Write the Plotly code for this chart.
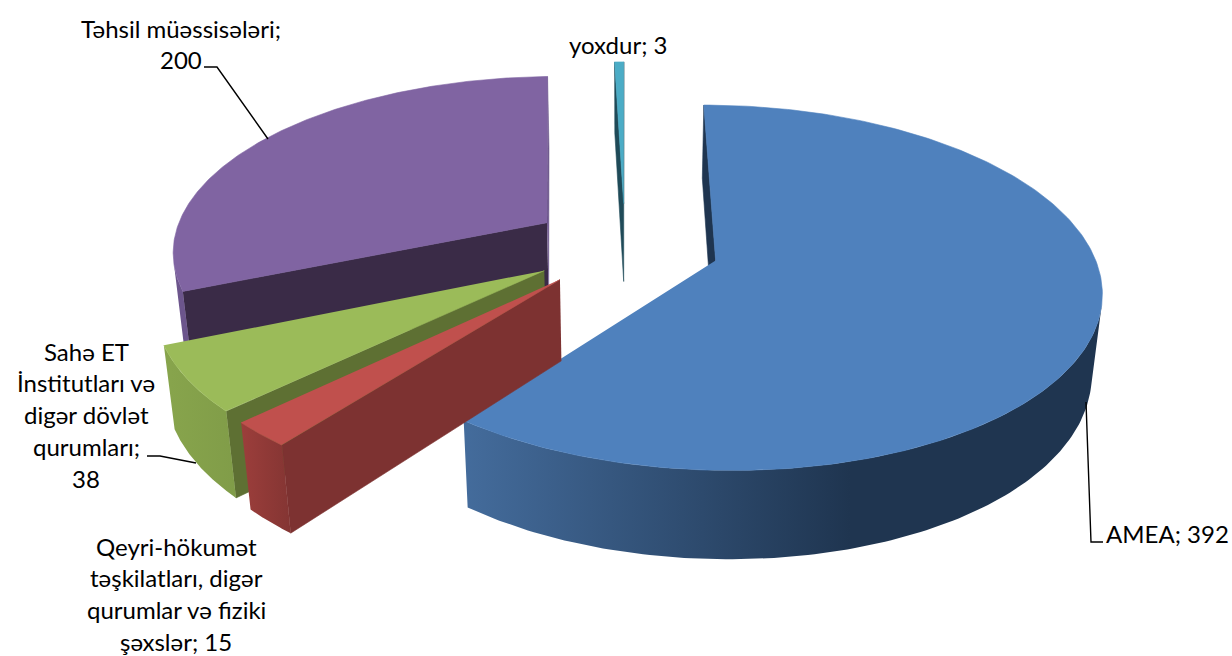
import numpy as np
import plotly.graph_objects as go

categories = ["AMEA", "Qeyri-hökumət təşkilatları, digər qurumlar və fiziki şəxslər",
              "Sahə ET İnstitutları və digər dövlət qurumları", "Təhsil müəssisələri", "yoxdur"]
values = [392, 15, 38, 200, 3]
top_colors = ["#4f81bd", "#c0504d", "#9bbb59", "#8064a2", "#4bacc6"]
face_colors = ["#1f3550", "#7d3231", "#5e7033", "#3a2b47", "#1f4a58"]
rim_gradients = [
    (463, 850, "#446c9c", "#1f3550"),
    (241, 290, "#9c3e3b", "#843533"),
    (170, 240, "#87a44c", "#809c48"),
    (170, 560, "#6c558c", "#6c558c"),
    (610, 630, "#1f4a58", "#1f4a58"),
]
label_lines = [
    ["AMEA; 392"],
    ["Qeyri-hökumət", "təşkilatları, digər", "qurumlar və fiziki", "şəxslər; 15"],
    ["Sahə ET", "İnstitutları və", "digər dövlət", "qurumları;", "38"],
    ["Təhsil müəssisələri;", "200"],
    ["yoxdur; 3"],
]
label_x = [1167, 176, 86, 181, 618]
label_y = [533, 546, 351, 28, 44]
line_step = 31.9
leaders = [
    ([1086, 1091, 1103], [402, 542, 542]),
    ([], []),
    ([147, 160, 196], [456, 456, 463]),
    ([204, 217, 268], [67, 67, 139]),
    ([], []),
]

# projection parameters (pixels)
CX, CY, RX, RY, K, D, M, EXPLODE = 625, 246, 375.5, 174.3, 0.148, 81.5, 0.022, 0.252


def project(u, v, z):
    den = 1 - K * v + M * z
    return CX + RX * u / den, CY + (RY * v + D * z) / den


def signed_area(xs, ys):
    xs, ys = np.asarray(xs), np.asarray(ys)
    return 0.5 * np.sum(xs * np.roll(ys, -1) - np.roll(xs, -1) * ys)


fig = go.Figure()


def add_poly(xs, ys, color=None, gradient=None):
    kw = dict(x=list(xs), y=list(ys), mode="lines", fill="toself", hoverinfo="skip", showlegend=False)
    if gradient:
        s, e, c0, c1 = gradient
        kw["line"] = dict(width=0, color=c1)
        kw["fillcolor"] = c1
        kw["fillgradient"] = dict(type="horizontal", start=s, stop=e,
                                  colorscale=[[0, c0], [1, c1]])
    else:
        kw["line"] = dict(width=0.6, color=color)
        kw["fillcolor"] = color
    fig.add_trace(go.Scatter(**kw))


fractions = np.array(values) / sum(values) * 2 * np.pi
ends = np.cumsum(fractions)
starts = ends - fractions
draw_order = [3, 4, 0, 2, 1]

for i in draw_order:
    a0, a1 = starts[i], ends[i]
    mid = (a0 + a1) / 2
    ox, oy = EXPLODE * np.sin(mid), -EXPLODE * np.cos(mid)
    t = np.linspace(a0, a1, 240)
    au, av = ox + np.sin(t), oy - np.cos(t)
    ax_t, ay_t = project(au, av, 0)
    ax_b, ay_b = project(au, av, 1)
    px_t, py_t = project(ox, oy, 0)
    px_b, py_b = project(ox, oy, 1)

    # radial faces: only those that turn towards the viewer
    fx = [px_t, ax_t[0], ax_b[0], px_b]
    fy = [py_t, ay_t[0], ay_b[0], py_b]
    gx = [px_t, ax_t[-1], ax_b[-1], px_b]
    gy = [py_t, ay_t[-1], ay_b[-1], py_b]
    if signed_area(fx, fy) < 0:
        add_poly(fx, fy, face_colors[i])
    if signed_area(gx, gy) > 0:
        add_poly(gx, gy, rim_gradients[i][3])

    # outer rim: the part of the arc that faces the viewer
    visible = [k for k in range(len(t) - 1)
               if signed_area([ax_t[k], ax_t[k + 1], ax_b[k + 1], ax_b[k]],
                              [ay_t[k], ay_t[k + 1], ay_b[k + 1], ay_b[k]]) < 0]
    if visible:
        k0, k1 = visible[0], visible[-1] + 2
        add_poly(np.r_[ax_t[k0:k1], ax_b[k0:k1][::-1]], np.r_[ay_t[k0:k1], ay_b[k0:k1][::-1]],
                 gradient=rim_gradients[i])

    # top surface
    add_poly(np.r_[px_t, ax_t], np.r_[py_t, ay_t], top_colors[i])

for lx, ly in leaders:
    if lx:
        fig.add_trace(go.Scatter(x=lx, y=ly, mode="lines", hoverinfo="skip", showlegend=False,
                                 line=dict(color="#000000", width=1.4)))

for lines, x0, y0 in zip(label_lines, label_x, label_y):
    for n, line in enumerate(lines):
        fig.add_annotation(x=x0, y=y0 + n * line_step, text=line, showarrow=False,
                           xanchor="center", yanchor="middle",
                           font=dict(family="Lato, Carlito, sans-serif", size=24, color="#000000"))

fig.update_layout(
    width=1232, height=656, autosize=False,
    margin=dict(l=0, r=0, t=0, b=0),
    paper_bgcolor="#ffffff", plot_bgcolor="#ffffff",
    xaxis=dict(range=[0, 1232], visible=False, fixedrange=True),
    yaxis=dict(range=[656, 0], visible=False, fixedrange=True),
)
fig.write_html("out.html", post_script="document.body.style.margin='0';document.body.style.overflow='hidden';",
               config={"displayModeBar": False})
